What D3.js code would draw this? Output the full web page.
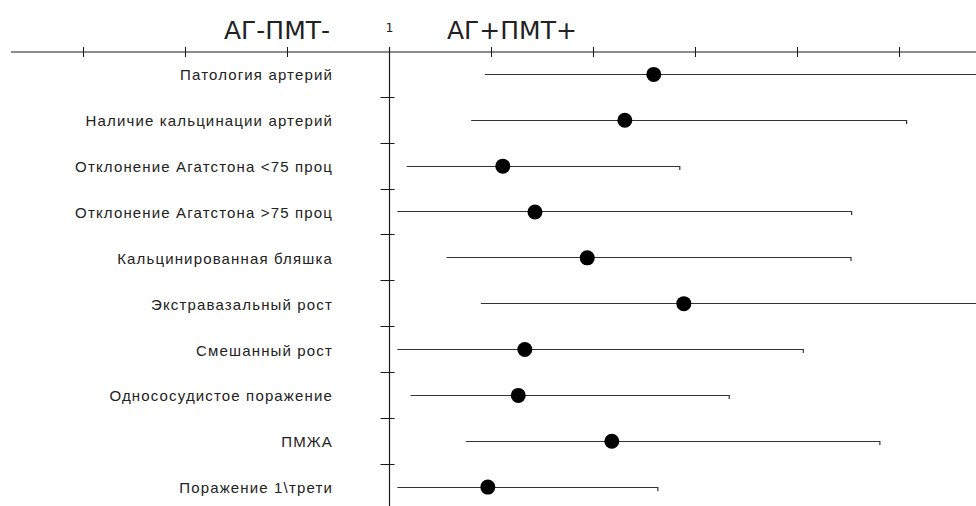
<!DOCTYPE html>
<html>
<head>
<meta charset="utf-8">
<script src="https://cdn.jsdelivr.net/npm/d3@7"></script>
<style>
  html, body { margin: 0; padding: 0; background: #fff; }
  svg { display: block; }
</style>
</head>
<body>
<svg id="chart" width="976" height="506"></svg>
<script>
// ---- data ----
const categories = [
  "Патология артерий",
  "Наличие кальцинации артерий",
  "Отклонение Агатстона <75 проц",
  "Отклонение Агатстона >75 проц",
  "Кальцинированная бляшка",
  "Экстравазальный рост",
  "Смешанный рост",
  "Однососудистое поражение",
  "ПМЖА",
  "Поражение 1\\трети"
];
const estimate = [6.05, 4.97, 2.17, 2.70, 3.85, 7.42, 2.52, 2.41, 4.55, 1.96];
const lower    = [1.92, 1.75, 1.13, 1.06, 1.48, 1.87, 1.06, 1.16, 1.69, 1.06];
const upper    = [70,   33.7, 7.22, 23.2, 23.1, 70,   16.7, 10.1, 28.1, 6.22];
const tickValues = [0.125, 0.25, 0.5, 1, 2, 4, 8, 16, 32];
const refValue = 1;
const refLabel = "1";
const leftTitle = "АГ-ПМТ-";
const rightTitle = "АГ+ПМТ+";

const rows = categories.map((c, i) => ({ label: c, est: estimate[i], lo: lower[i], hi: upper[i] }));

// ---- layout ----
const W = 976, H = 506;
const axisY = 52;
const svg = d3.select("#chart");

const x = d3.scaleLog().base(2).domain([0.125, 32]).range([82.6, 899]);
const y = d3.scaleBand().domain(categories).range([51, 509.5]).padding(0);
const cy = d => y(d) + y.bandwidth() / 2;

const ink = "#1a1a1a";

// top horizontal axis line
svg.append("line")
  .attr("x1", 11).attr("x2", W)
  .attr("y1", axisY).attr("y2", axisY)
  .attr("stroke", ink).attr("stroke-width", 1.2);

// top axis ticks
svg.append("g").selectAll("line").data(tickValues).join("line")
  .attr("x1", d => Math.round(x(d)) + 0.5).attr("x2", d => Math.round(x(d)) + 0.5)
  .attr("y1", axisY - 5).attr("y2", axisY + 5)
  .attr("stroke", ink).attr("stroke-width", 1);

// vertical reference line
const rx = Math.round(x(refValue)) + 0.5;
svg.append("line")
  .attr("x1", rx).attr("x2", rx)
  .attr("y1", axisY - 5).attr("y2", H)
  .attr("stroke", ink).attr("stroke-width", 1.2);

// ticks on the vertical line between rows
svg.append("g").selectAll("line").data(categories.slice(1)).join("line")
  .attr("x1", rx - 9).attr("x2", rx + 5)
  .attr("y1", d => Math.round(y(d)) + 0.5).attr("y2", d => Math.round(y(d)) + 0.5)
  .attr("stroke", ink).attr("stroke-width", 1);

// titles
svg.append("text")
  .attr("x", 330).attr("y", 39)
  .attr("text-anchor", "end")
  .attr("font-family", "DejaVu Sans")
  .attr("font-size", 25)
  .attr("fill", "#222")
  .text(leftTitle);
svg.append("text")
  .attr("x", 447).attr("y", 39)
  .attr("text-anchor", "start")
  .attr("font-family", "DejaVu Sans")
  .attr("font-size", 25)
  .attr("fill", "#222")
  .text(rightTitle);
svg.append("text")
  .attr("x", rx).attr("y", 32)
  .attr("text-anchor", "middle")
  .attr("font-family", "DejaVu Sans")
  .attr("font-size", 12.5)
  .attr("fill", "#222")
  .text(refLabel);

// row labels
svg.append("g").selectAll("text").data(rows).join("text")
  .attr("x", 333)
  .attr("y", d => cy(d.label) + 6.5)
  .attr("text-anchor", "end")
  .attr("font-family", "Liberation Sans, Arial, sans-serif")
  .attr("font-size", 15)
  .attr("letter-spacing", "1.15px")
  .attr("fill", "#222")
  .text(d => d.label);

// CI lines
const ci = svg.append("g");
ci.selectAll("line.ci").data(rows).join("line")
  .attr("class", "ci")
  .attr("x1", d => x(d.lo)).attr("x2", d => x(d.hi))
  .attr("y1", d => Math.round(cy(d.label)) + 0.5).attr("y2", d => Math.round(cy(d.label)) + 0.5)
  .attr("stroke", "#333").attr("stroke-width", 1.2);
// small right-end caps
ci.selectAll("line.cap").data(rows.filter(d => x(d.hi) < W)).join("line")
  .attr("class", "cap")
  .attr("x1", d => x(d.hi)).attr("x2", d => x(d.hi))
  .attr("y1", d => Math.round(cy(d.label))).attr("y2", d => Math.round(cy(d.label)) + 4)
  .attr("stroke", "#333").attr("stroke-width", 1.2);

// point estimates
svg.append("g").selectAll("circle").data(rows).join("circle")
  .attr("cx", d => x(d.est))
  .attr("cy", d => cy(d.label) + 0.5)
  .attr("r", 7.5)
  .attr("fill", "#000");
</script>
</body>
</html>
